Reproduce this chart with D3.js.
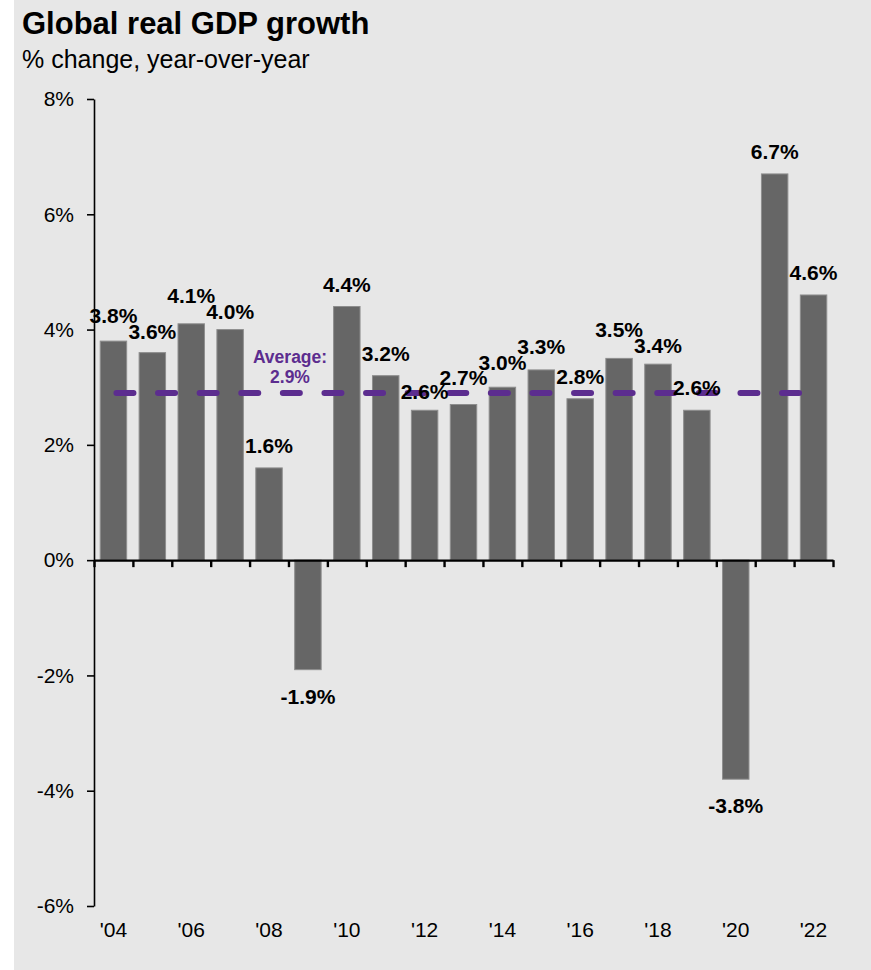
<!DOCTYPE html>
<html>
<head>
<meta charset="utf-8">
<script src="https://cdn.jsdelivr.net/npm/d3@7"></script>
<style>
  body { margin: 0; background: #fff; }
  text { font-family: "Liberation Sans", Arial, sans-serif; }
</style>
</head>
<body>
<div id="chart"></div>
<script>
// Data
var years = [2004, 2005, 2006, 2007, 2008, 2009, 2010, 2011, 2012, 2013,
             2014, 2015, 2016, 2017, 2018, 2019, 2020, 2021, 2022];
var growth = [3.8, 3.6, 4.1, 4.0, 1.6, -1.9, 4.4, 3.2, 2.6, 2.7,
              3.0, 3.3, 2.8, 3.5, 3.4, 2.6, -3.8, 6.7, 4.6];
var average = 2.9;
var yTicks = [-6, -4, -2, 0, 2, 4, 6, 8];
var xTickYears = [2004, 2006, 2008, 2010, 2012, 2014, 2016, 2018, 2020, 2022];

var W = 871, H = 970;
var plotLeft = 94, plotRight = 833, plotTop = 99, plotBottom = 906;

var svg = d3.select("#chart")
    .append("svg")
    .attr("width", W)
    .attr("height", H);

// gray panel
svg.append("rect")
    .attr("x", 14).attr("y", 0)
    .attr("width", W - 14).attr("height", H)
    .attr("fill", "#e7e7e7");

// titles
svg.append("text")
    .attr("x", 22).attr("y", 34)
    .attr("font-size", 31).attr("font-weight", "bold")
    .attr("fill", "#000")
    .text("Global real GDP growth");

svg.append("text")
    .attr("x", 22).attr("y", 68)
    .attr("font-size", 25)
    .attr("fill", "#000")
    .text("% change, year-over-year");

// scales
var x = d3.scaleBand()
    .domain(years)
    .range([plotLeft, plotRight])
    .paddingInner(0.32)
    .paddingOuter(0.16);

var xEdge = d3.scaleLinear()
    .domain([years[0] - 0.5, years[years.length - 1] + 0.5])
    .range([plotLeft, plotRight]);

var y = d3.scaleLinear()
    .domain([-6, 8])
    .range([plotBottom, plotTop]);

// bars
svg.selectAll(".bar")
    .data(years)
    .enter()
    .append("rect")
    .attr("class", "bar")
    .attr("x", d => x(d))
    .attr("width", x.bandwidth())
    .attr("y", (d, i) => y(Math.max(0, growth[i])))
    .attr("height", (d, i) => Math.abs(y(growth[i]) - y(0)))
    .attr("fill", "#666666")
    .attr("stroke", "#8e8e8e")
    .attr("stroke-width", 1);

// y axis
var yAxis = svg.append("g")
    .attr("transform", "translate(" + plotLeft + ",0)")
    .call(d3.axisLeft(y)
        .tickValues(yTicks)
        .tickFormat(d => d + "%")
        .tickSize(7)
        .tickSizeOuter(0)
        .tickPadding(13));
yAxis.select(".domain").attr("stroke", "#000").attr("stroke-width", 1.6);
yAxis.selectAll(".tick line").attr("stroke", "#000").attr("stroke-width", 1.6);
yAxis.selectAll(".tick text")
    .attr("font-size", 21)
    .attr("font-family", "Liberation Sans, Arial, sans-serif")
    .attr("fill", "#000");

// x axis line at zero with ticks at year boundaries
var edges = d3.range(years.length + 1).map(i => years[0] - 0.5 + i);
var xAxis = svg.append("g")
    .attr("transform", "translate(0," + y(0) + ")")
    .call(d3.axisBottom(xEdge)
        .tickValues(edges)
        .tickFormat("")
        .tickSize(7)
        .tickSizeOuter(0));
xAxis.select(".domain").attr("stroke", "#000").attr("stroke-width", 2.4);
xAxis.selectAll(".tick line").attr("stroke", "#000").attr("stroke-width", 2.4);

// year labels at bottom
var xLabels = svg.append("g")
    .attr("transform", "translate(0," + (plotBottom + 10) + ")")
    .call(d3.axisBottom(x)
        .tickValues(xTickYears)
        .tickFormat(d => "'" + String(d).slice(2))
        .tickSize(0)
        .tickPadding(6));
xLabels.select(".domain").remove();
xLabels.selectAll(".tick text")
    .attr("font-size", 21)
    .attr("font-family", "Liberation Sans, Arial, sans-serif")
    .attr("fill", "#000");

// average line
svg.append("line")
    .attr("x1", x(years[0]) + x.bandwidth() / 2 + 3)
    .attr("x2", x(years[years.length - 1]) + x.bandwidth() / 2)
    .attr("y1", y(average))
    .attr("y2", y(average))
    .attr("stroke", "#5c2d8f")
    .attr("stroke-width", 6)
    .attr("stroke-linecap", "round")
    .attr("stroke-dasharray", "17,24.6");

svg.append("text")
    .attr("x", 290).attr("y", y(average) - 30)
    .attr("text-anchor", "middle")
    .attr("font-size", 17.5).attr("font-weight", "bold")
    .attr("fill", "#5c2d8f")
    .text("Average:");

svg.append("text")
    .attr("x", 290).attr("y", y(average) - 10)
    .attr("text-anchor", "middle")
    .attr("font-size", 17.5).attr("font-weight", "bold")
    .attr("fill", "#5c2d8f")
    .text(average.toFixed(1) + "%");

// value label positions: above/below bar, staggered when neighbours collide
var labelY = growth.map(v => v >= 0 ? y(v) - 15 : y(v) + 34);
var minGap = 16;
for (var i = 1; i < growth.length; i++) {
    if (growth[i] < 0 || growth[i - 1] < 0) continue;
    var diff = Math.abs(labelY[i] - labelY[i - 1]);
    if (diff < minGap) {
        var need = minGap - diff;
        var hi = growth[i] >= growth[i - 1] ? i : i - 1;
        var lo = hi === i ? i - 1 : i;
        labelY[hi] -= need * 0.6;
        labelY[lo] += need * 0.4;
    }
}

svg.selectAll(".val")
    .data(years)
    .enter()
    .append("text")
    .attr("class", "val")
    .attr("x", d => x(d) + x.bandwidth() / 2)
    .attr("y", (d, i) => labelY[i])
    .attr("text-anchor", "middle")
    .attr("font-size", 21).attr("font-weight", "bold")
    .attr("fill", "#000")
    .text((d, i) => growth[i].toFixed(1) + "%");
</script>
</body>
</html>
